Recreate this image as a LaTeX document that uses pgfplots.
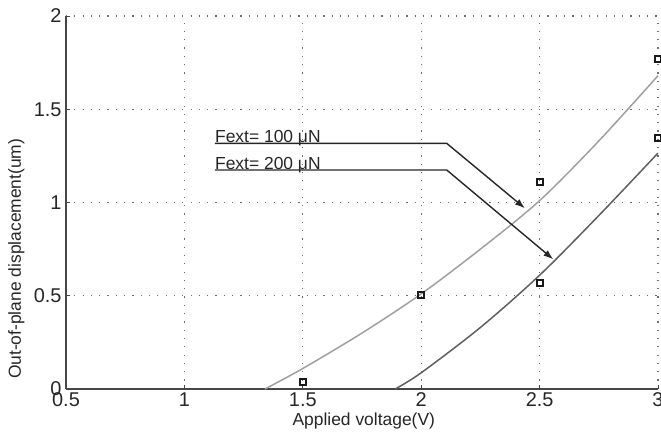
\documentclass[border=0pt]{standalone}
\usepackage{pgfplots}
\pgfplotsset{compat=1.18}
\usepackage{fontspec}
\setmainfont{Liberation Sans}
\usetikzlibrary{arrows.meta}

\definecolor{fitlight}{RGB}{160,160,160}
\definecolor{fitdark}{RGB}{95,95,95}
\definecolor{axisgray}{RGB}{70,70,70}
\definecolor{gridgray}{RGB}{110,110,110}

\begin{document}
\begin{tikzpicture}
\begin{axis}[
  at={(0,0)}, anchor=south west,
  scale only axis,
  width=592bp, height=373bp,
  xmin=0.5, xmax=3, ymin=0, ymax=2,
  xtick={0.5,1,1.5,2,2.5,3},
  ytick={0,0.5,1,1.5,2},
  xticklabels={0.5,1,1.5,2,2.5,3},
  yticklabels={0,0.5,1,1.5,2},
  axis x line*=bottom, axis y line*=left,
  axis line style={axisgray, line width=1.4bp},
  tick style={axisgray, line width=0.8bp},
  tick align=inside,
  major tick length=4bp,
  grid=major,
  major grid style={gridgray, line width=1.1bp, dash pattern=on 1.2bp off 7.1bp},
  ticklabel style={font=\fontsize{20}{22}\selectfont, text=black!85},
  yticklabel style={xshift=-1bp},
  /pgf/number format/assume math mode=true,
  xlabel={Applied voltage(V)},
  ylabel={Out-of-plane displacement(um)},
  label style={font=\fontsize{17.5}{19}\selectfont, text=black!85, inner sep=0pt},
  xlabel style={at={(axis description cs:0.503,-0.064)}, anchor=north},
  ylabel style={at={(axis description cs:-0.098,0.349)}, anchor=north},
  clip=false,
]
  % fitted curves
  \addplot[fitlight, line width=1.5bp, smooth] coordinates {
    (1.34,0) (1.5,0.11) (1.75,0.30) (2,0.51) (2.25,0.75) (2.5,1.01) (2.75,1.33) (3,1.68)};
  \addplot[fitdark, line width=1.5bp, smooth] coordinates {
    (1.89,0) (2,0.087) (2.25,0.33) (2.5,0.61) (2.75,0.93) (3,1.265)};
  % measured points
  \addplot[only marks, mark=square, mark size=3bp, black!90, mark options={line width=1.9bp}] coordinates {
    (1.5,0.039) (2,0.504) (2.5,1.108) (3,1.769)};
  \addplot[only marks, mark=square, mark size=3bp, black!90, mark options={line width=1.9bp}] coordinates {
    (2.5,0.567) (3,1.344)};
  % annotations
  \node[anchor=base west, inner sep=0pt, font=\fontsize{17.5}{19}\selectfont, text=black!85]
    at (axis cs:1.129,1.322) {Fext= 100 μN};
  \node[anchor=base west, inner sep=0pt, font=\fontsize{17.5}{19}\selectfont, text=black!85]
    at (axis cs:1.129,1.179) {Fext= 200 μN};
  \draw[black!85, line width=1.4bp, -{Latex[length=10bp, width=7bp]}]
    (axis cs:1.129,1.317) -- (axis cs:2.108,1.317) -- (axis cs:2.438,0.969);
  \draw[black!85, line width=1.4bp, -{Latex[length=10bp, width=7bp]}]
    (axis cs:1.129,1.174) -- (axis cs:2.108,1.174) -- (axis cs:2.558,0.695);
  \coordinate (bl) at (rel axis cs:0,0);
\end{axis}
\pgfresetboundingbox
\path[use as bounding box] ([shift={(-66bp,-53bp)}]bl) rectangle ([shift={(595bp,389bp)}]bl);
\end{tikzpicture}
\end{document}
